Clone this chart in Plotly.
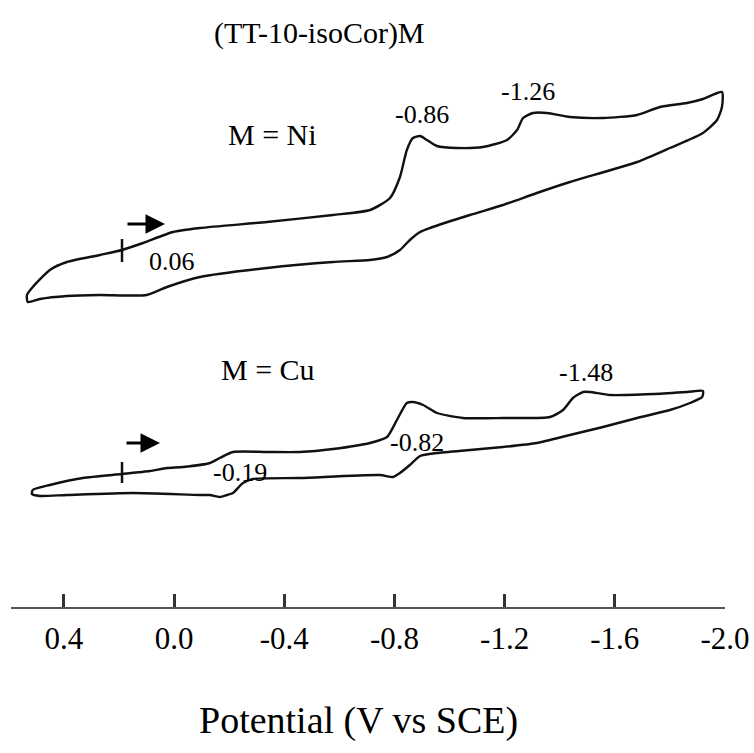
import plotly.graph_objects as go

# ---------------- data (potential in V vs SCE, current in arbitrary units) ----------------
ni_potential = [0.189, 0.113, 0.004, -0.094, -0.337, -0.577, -0.711, -0.784, -0.820, -0.845,
                -0.867, -0.893, -0.918, -0.954, -1.027, -1.121, -1.209, -1.245, -1.267, -1.303,
                -1.354, -1.437, -1.557, -1.681, -1.764, -1.862, -1.920, -1.989,
                -1.989, -1.971, -1.920, -1.800, -1.681, -1.437, -1.317, -1.194, -1.074, -0.929,
                -0.893, -0.856, -0.820, -0.773, -0.711, -0.577, -0.337, -0.094, 0.026, 0.099,
                0.269, 0.389, 0.487, 0.531, 0.534, 0.513, 0.451, 0.389, 0.269, 0.189]
ni_current = [5.0, 5.7, 6.8, 7.2, 7.8, 8.5, 9.0, 10.2, 12.3, 15.0,
              16.2, 16.4, 16.0, 15.4, 15.2, 15.3, 16.0, 17.0, 18.2, 18.7,
              18.7, 18.3, 18.2, 18.5, 19.3, 19.7, 20.1, 20.8,
              19.3, 18.0, 16.7, 15.2, 13.8, 11.8, 10.7, 9.5, 8.5, 7.2,
              6.8, 6.0, 5.0, 4.3, 4.0, 3.8, 3.2, 2.3, 1.3, 0.5,
              0.5, 0.4, 0.1, -0.2, 0.5, 1.3, 3.0, 3.8, 4.5, 5.0]

cu_potential = [0.189, 0.088, 0.026, -0.032, -0.130, -0.166, -0.214, -0.337, -0.457, -0.577,
                -0.711, -0.773, -0.809, -0.845, -0.867, -0.904, -0.954, -1.049, -1.194, -1.365,
                -1.412, -1.448, -1.485, -1.510, -1.583, -1.739, -1.862, -1.920,
                -1.917, -1.873, -1.800, -1.681, -1.557, -1.437, -1.317, -1.194, -1.074, -0.954,
                -0.893, -0.856, -0.820, -0.795, -0.747, -0.457, -0.286, -0.250, -0.214, -0.192,
                -0.166, -0.130, -0.094, 0.149, 0.389, 0.487, 0.516, 0.513, 0.451, 0.331, 0.189]
cu_current = [2.6, 2.9, 3.2, 3.3, 3.7, 4.2, 4.8, 4.8, 4.8, 5.1,
              5.7, 6.3, 8.0, 9.7, 9.8, 9.5, 8.7, 8.2, 8.2, 8.3,
              9.0, 10.2, 10.8, 10.8, 10.5, 10.6, 10.8, 10.9,
              10.3, 9.7, 9.0, 8.2, 7.3, 6.5, 5.7, 5.3, 5.0, 4.7,
              4.4, 3.5, 2.7, 2.3, 2.5, 2.2, 2.1, 1.7, 0.7, 0.5,
              0.3, 0.5, 0.5, 0.7, 0.5, 0.4, 0.6, 1.0, 1.5, 2.2, 2.6]

tick_values = [0.4, 0.0, -0.4, -0.8, -1.2, -1.6, -2.0]
tick_labels = ["0.4", "0.0", "-0.4", "-0.8", "-1.2", "-1.6", "-2.0"]

ni_peak_labels = ["-0.86", "-1.26", "0.06"]
cu_peak_labels = ["-0.19", "-0.82", "-1.48"]

# ---------------- figure ----------------
W, H = 754, 753
PLOT_BOTTOM = 607  # pixel row of the potential axis
FONT = "Liberation Serif"


def px(x):
    return x / W


def py(y):
    return (PLOT_BOTTOM - y) / PLOT_BOTTOM


fig = go.Figure()
fig.add_trace(go.Scatter(x=ni_potential, y=ni_current, mode="lines",
                         line=dict(color="#111111", width=2.4, shape="spline", smoothing=0.6),
                         yaxis="y", showlegend=False, hoverinfo="skip"))
fig.add_trace(go.Scatter(x=cu_potential, y=cu_current, mode="lines",
                         line=dict(color="#111111", width=2.4, shape="spline", smoothing=0.6),
                         yaxis="y2", showlegend=False, hoverinfo="skip"))

annotations = []


def text(t, x, y, size):
    annotations.append(dict(text=t, x=px(x), y=py(y), xref="paper", yref="paper",
                            showarrow=False, xanchor="center", yanchor="middle",
                            font=dict(family=FONT, size=size, color="#000000")))


text("(TT-10-isoCor)M", 319, 33, 30)
text("M = Ni", 272, 134, 30)
text("M = Cu", 268, 369, 30)
for lab, (x, y) in zip(ni_peak_labels, [(422, 114), (528, 92), (172, 261)]):
    text(lab, x, y, 26)
for lab, (x, y) in zip(cu_peak_labels, [(240, 472), (417, 442), (586, 373)]):
    text(lab, x, y, 26)
text("Potential (V vs SCE)", 358, 721, 38)

# scan direction arrows
for (x0, x1, y) in [(126, 165, 224), (125, 160, 443)]:
    annotations.append(dict(x=px(x1), y=py(y), xref="paper", yref="paper",
                            ax=-(x1 - x0), ay=0, axref="pixel", ayref="pixel",
                            showarrow=True, arrowhead=2, arrowsize=1.3, arrowwidth=3,
                            arrowcolor="#000000", text=""))

shapes = []
# starting-potential markers
for (y0, y1) in [(239, 262), (462, 483)]:
    shapes.append(dict(type="line", xref="x", yref="paper",
                       x0=ni_potential[0], x1=ni_potential[0], y0=py(y0), y1=py(y1),
                       line=dict(color="#111111", width=2.5)))

fig.update_layout(
    width=W, height=H, autosize=False,
    margin=dict(l=0, r=0, t=0, b=H - PLOT_BOTTOM, pad=0, autoexpand=False),
    paper_bgcolor="white", plot_bgcolor="white",
    font=dict(family=FONT, color="#000000"),
    xaxis=dict(domain=[11 / W, 725 / W], range=[0.592, -2.0], automargin=False,
               tickvals=tick_values, ticktext=tick_labels,
               ticks="inside", ticklen=13, tickwidth=2.5, tickcolor="#333333",
               showline=True, linewidth=2, linecolor="#555555",
               showgrid=False, zeroline=False,
               tickfont=dict(family=FONT, size=31, color="#000000"),
               ticklabelstandoff=3),
    yaxis=dict(range=[-30.7, 30.0], visible=False, showgrid=False, zeroline=False),
    yaxis2=dict(range=[-10.7, 50.0], visible=False, showgrid=False, zeroline=False,
                overlaying="y"),
    annotations=annotations,
    shapes=shapes,
)

fig.write_html("out.html", config={"responsive": False})
